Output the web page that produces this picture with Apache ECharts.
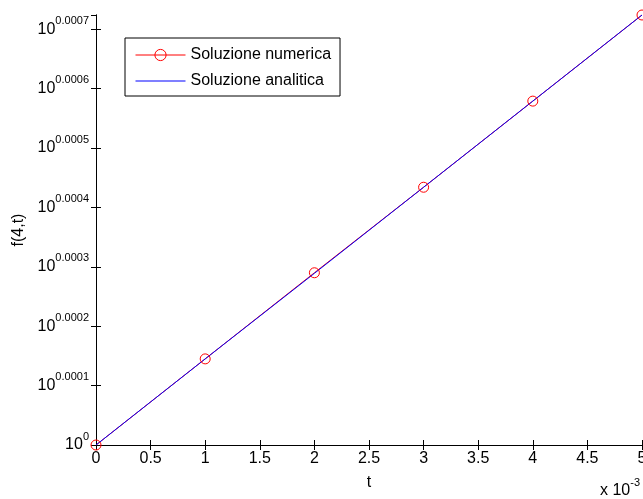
<!DOCTYPE html>
<html>
<head>
<meta charset="utf-8">
<script src="https://cdn.jsdelivr.net/npm/echarts@6/dist/echarts.min.js"></script>
<style>
  html, body { margin: 0; padding: 0; background: #fff; }
  #chart { width: 643px; height: 499px; }
</style>
</head>
<body>
<div id="chart"></div>
<script>
// t in units of 1e-3, y values are the exponent (axis shows 10^value)
var tNumerica = [0, 1, 2, 3, 4, 5];
var expNumerica = [0, 0.000145, 0.00029, 0.000434, 0.000579, 0.000724];
var tAnalitica = [0, 1, 2, 3, 4, 5];
var expAnalitica = [0, 0.000145, 0.000289, 0.000434, 0.000579, 0.000724];
var seriesNames = ['Soluzione numerica', 'Soluzione analitica'];
var yTicks = [0, 0.0001, 0.0002, 0.0003, 0.0004, 0.0005, 0.0006, 0.0007];

function pairs(xs, ys) {
    var out = [];
    for (var i = 0; i < xs.length; i++) out.push([xs[i], ys[i]]);
    return out;
}

var font = 'Arial, "Liberation Sans", sans-serif';
var supRich = {
    b: { fontSize: 16, lineHeight: 28, color: '#000', fontFamily: font },
    s: { fontSize: 11, lineHeight: 11, padding: [0, 0, 17, 0], color: '#000', fontFamily: font }
};

var dom = document.getElementById('chart');
var myChart = echarts.init(dom);
var option = {
    animation: false,
    backgroundColor: '#fff',
    grid: { left: 96, right: 1, top: 15, bottom: 54, outerBoundsMode: 'none', containLabel: false },
    legend: {
        orient: 'vertical',
        left: 125,
        top: 38,
        padding: [9, 9, 7, 10],
        itemGap: 10,
        itemWidth: 50,
        itemHeight: 14,
        borderColor: '#000',
        borderWidth: 1,
        backgroundColor: '#fff',
        lineStyle: { width: 1 },
        itemStyle: { borderWidth: 1 },
        textStyle: { fontSize: 16, color: '#000', fontFamily: font },
        data: [
            { name: seriesNames[0] },
            { name: seriesNames[1], icon: 'path://M0,0 L50,0 L50,1 L0,1 Z', itemStyle: { color: '#0000ff' } }
        ]
    },
    graphic: [{
        type: 'text',
        left: 600,
        top: 477,
        style: { text: '{b|x 10}{s|-3}', rich: supRich }
    }],
    xAxis: [{
        type: 'value',
        min: 0, max: 5, interval: 0.5,
        name: 't',
        nameLocation: 'middle',
        nameGap: 30,
        nameTextStyle: { fontSize: 16, color: '#000', fontFamily: font },
        axisLine: { lineStyle: { color: '#000', width: 1 } },
        axisTick: { inside: true, length: 5, lineStyle: { color: '#000' } },
        axisLabel: { margin: 6, fontSize: 16, color: '#000', fontFamily: font },
        splitLine: { show: false }
    }, {
        type: 'value', position: 'top',
        min: 0, max: 5, interval: 0.5,
        axisLine: { lineStyle: { color: '#000', width: 1 } },
        axisTick: { inside: true, length: 5, lineStyle: { color: '#000' } },
        axisLabel: { show: false },
        splitLine: { show: false }
    }],
    yAxis: [{
        type: 'value',
        min: yTicks[0], max: 0.000724, interval: 0.0001,
        name: 'f(4,t)',
        nameLocation: 'middle',
        nameGap: 68,
        nameTextStyle: { fontSize: 16, color: '#000', fontFamily: font },
        axisLine: { show: true, lineStyle: { color: '#000', width: 1 } },
        axisTick: { show: true, inside: true, length: 5, lineStyle: { color: '#000' } },
        axisLabel: {
            margin: 7,
            showMaxLabel: false,
            rich: supRich,
            formatter: function (v) {
                var s = v === 0 ? '0' : v.toFixed(4);
                return '{b|10}{s|' + s + '}';
            }
        },
        splitLine: { show: false }
    }, {
        type: 'value', position: 'right',
        min: yTicks[0], max: 0.000724, interval: 0.0001,
        axisLine: { show: true, lineStyle: { color: '#000', width: 1 } },
        axisTick: { show: true, inside: true, length: 5, lineStyle: { color: '#000' } },
        axisLabel: { show: false },
        splitLine: { show: false }
    }],
    series: [{
        name: seriesNames[0],
        type: 'line',
        data: pairs(tNumerica, expNumerica),
        symbol: 'circle',
        symbolSize: 10,
        clip: false,
        lineStyle: { color: '#ff0000', width: 1 },
        itemStyle: { color: 'rgba(0,0,0,0)', borderColor: '#ff0000', borderWidth: 1 }
    }, {
        name: seriesNames[1],
        type: 'line',
        data: pairs(tAnalitica, expAnalitica),
        symbol: 'none',
        showSymbol: false,
        lineStyle: { color: '#0000ff', width: 1 },
        itemStyle: { color: '#0000ff' }
    }]
};
myChart.setOption(option, true);
</script>
</body>
</html>
